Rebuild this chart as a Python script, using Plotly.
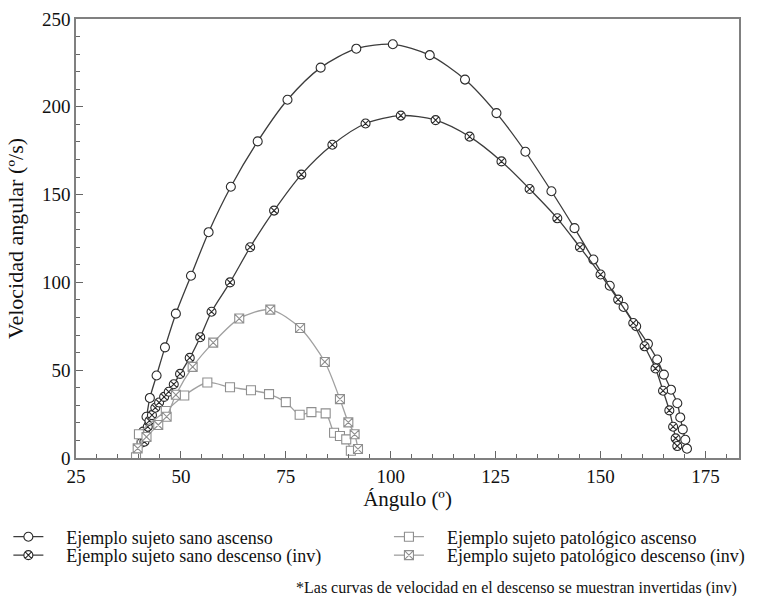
import plotly.graph_objects as go

# ---- data ----
sano_asc_x = [40.6, 41.0, 41.8, 42.6, 44.2, 46.2, 48.8, 52.4, 56.6, 61.9, 68.3, 75.4, 83.3, 91.8,
              100.5, 109.3, 117.7, 125.2, 132.1, 138.3, 143.8, 148.3, 152.2, 155.5, 158.5, 161.3,
              163.5, 165.1, 166.8, 168.3, 169.0, 169.6, 170.2, 170.6]
sano_asc_y = [8.7, 15.0, 23.5, 34.2, 47.0, 63.0, 82.2, 103.8, 128.6, 154.5, 180.3, 204.0, 222.3, 233.1,
              235.6, 229.4, 215.5, 196.4, 174.4, 151.9, 130.9, 113.0, 98.1, 86.0, 75.0, 65.0,
              56.1, 47.5, 38.9, 31.2, 23.1, 16.3, 10.4, 5.3]

sano_desc_x = [41.3, 41.5, 42.1, 42.5, 43.1, 43.9, 44.8, 46.0, 47.1, 48.3, 49.8, 52.1, 54.6, 57.3,
               61.7, 66.5, 72.2, 78.7, 86.1, 94.0, 102.4, 110.7, 118.8, 126.4, 133.1, 139.7, 145.1,
               150.0, 154.2, 157.8, 160.5, 163.1, 164.9, 166.4, 167.3, 167.9, 168.3]
sano_desc_y = [9.3, 14.0, 17.8, 21.2, 24.4, 28.6, 31.6, 34.8, 37.7, 42.0, 47.9, 57.0, 68.8, 83.3,
               100.0, 120.0, 140.9, 161.4, 178.4, 190.5, 195.0, 192.4, 183.0, 168.9, 153.2, 136.5, 120.0,
               104.5, 90.2, 76.9, 63.6, 51.0, 38.3, 27.1, 17.8, 11.2, 6.8]

pat_asc_x = [39.3, 40.0, 46.4, 50.8, 56.3, 61.7, 66.7, 71.0, 75.0, 78.3, 81.1, 84.5, 86.5, 87.9, 89.4, 90.5]
pat_asc_y = [0.4, 13.5, 26.8, 35.6, 43.0, 40.3, 38.6, 36.4, 31.8, 24.6, 26.1, 25.4, 14.4, 12.5, 10.6, 4.1]

pat_desc_x = [39.7, 41.8, 44.6, 46.6, 48.8, 52.8, 57.7, 63.9, 71.3, 78.4, 84.3, 87.9, 89.9, 91.4, 92.2]
pat_desc_y = [5.5, 12.0, 18.8, 23.5, 36.0, 51.9, 65.7, 79.4, 84.5, 74.0, 54.7, 33.5, 20.3, 13.5, 5.1]

names = ["Ejemplo sujeto sano ascenso",
         "Ejemplo sujeto sano descenso (inv)",
         "Ejemplo sujeto patológico ascenso",
         "Ejemplo sujeto patológico descenso (inv)"]
footnote = "*Las curvas de velocidad en el descenso se muestran invertidas (inv)"

FONT = "Liberation Serif, Times New Roman, serif"
DARK = "#3c3c3c"
GRAY = "#a0a0a0"
PAD = "\u00a0" * 4

fig = go.Figure()

def add(x, y, name, symbol, lc, mc, legend):
    fig.add_trace(go.Scatter(
        x=x, y=y, name=PAD + name, mode="lines+markers",
        line=dict(color=lc, width=1.3, shape="spline", smoothing=0.8),
        marker=dict(symbol=symbol, size=9, color="white", line=dict(color=mc, width=1.1)),
        legend=legend,
    ))

add(sano_asc_x, sano_asc_y, names[0], "circle", DARK, "#2a2a2a", "legend")
add(sano_desc_x, sano_desc_y, names[1], "circle-x", DARK, "#2a2a2a", "legend2")
add(pat_asc_x, pat_asc_y, names[2], "square", GRAY, "#8f8f8f", "legend3")
add(pat_desc_x, pat_desc_y, names[3], "square-x", GRAY, "#8f8f8f", "legend4")

leg_common = dict(font=dict(family=FONT, size=18, color="#111"), bgcolor="rgba(0,0,0,0)",
                  xanchor="left", yanchor="middle", orientation="h", xref="paper", yref="paper")
row1, row2 = -0.18, -0.222
c1, c2 = -0.102, 0.472

fig.update_layout(
    width=757, height=596,
    margin=dict(l=76, r=18, t=19, b=138, autoexpand=False),
    paper_bgcolor="white", plot_bgcolor="white",
    font=dict(family=FONT, size=19, color="#111"),
    showlegend=True,
    legend=dict(x=c1, y=row1, **leg_common),
    legend2=dict(x=c1, y=row2, **leg_common),
    legend3=dict(x=c2, y=row1, **leg_common),
    legend4=dict(x=c2, y=row2, **leg_common),
    xaxis=dict(
        range=[25, 183], tickvals=[25, 50, 75, 100, 125, 150, 175],
        ticks="inside", ticklen=7, tickwidth=1, tickcolor="#666",
        minor=dict(dtick=5, tick0=25, ticks="inside", ticklen=4, tickcolor="#666"),
        showline=True, linecolor="#808080", linewidth=1.5, mirror=True,
        showgrid=False, zeroline=False, automargin=False,
        tickfont=dict(size=19),
        title=dict(text="Ángulo (º)", font=dict(size=21), standoff=6),
    ),
    yaxis=dict(
        range=[0, 250], tickvals=[0, 50, 100, 150, 200, 250],
        ticks="inside", ticklen=7, tickwidth=1, tickcolor="#666",
        minor=dict(dtick=10, tick0=0, ticks="inside", ticklen=4, tickcolor="#666"),
        showline=True, linecolor="#808080", linewidth=1.5, mirror=True,
        showgrid=False, zeroline=False, automargin=False,
        tickfont=dict(size=19),
        title=dict(text="Velocidad angular (º/s)", font=dict(size=22), standoff=12),
    ),
    annotations=[dict(text=footnote, xref="paper", yref="paper", x=1.0, y=-0.296,
                      xanchor="right", yanchor="middle", showarrow=False,
                      font=dict(family=FONT, size=16, color="#111"))],
)

fig.write_html("out.html")
